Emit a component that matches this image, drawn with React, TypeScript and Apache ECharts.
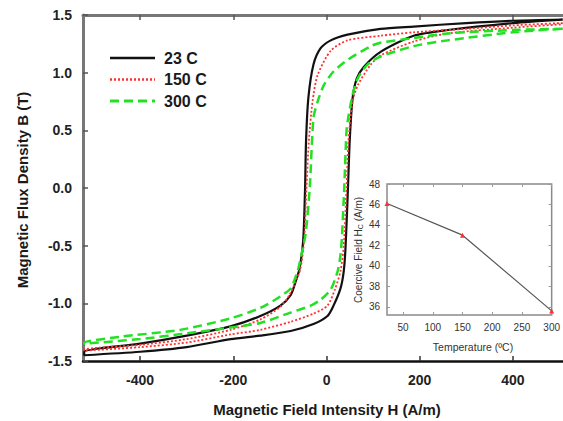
import React, { useEffect, useRef } from "react";
import * as echarts from "echarts";

// ---- Main hysteresis loops: [H (A/m), B (T)] ----
const loop23Upper: number[][] = [
  [507, 1.46], [400, 1.45], [300, 1.43], [187, 1.40], [116, 1.38], [45, 1.33], [9, 1.28],
  [-13, 1.21], [-28, 1.07], [-39, 0.78], [-44, 0.40], [-46, 0], [-50, -0.45], [-58, -0.70],
  [-67, -0.82], [-77, -0.93], [-99, -1.02], [-142, -1.11], [-206, -1.20], [-300, -1.28],
  [-400, -1.35], [-520, -1.42],
];
const loop23Lower: number[][] = [
  [-520, -1.45], [-400, -1.42], [-300, -1.38], [-206, -1.31], [-142, -1.28], [-77, -1.24],
  [-28, -1.18], [2, -1.11], [15, -1.02], [30, -0.87], [37, -0.72], [41, -0.50], [46, 0],
  [50, 0.43], [56, 0.78], [65, 0.95], [80, 1.05], [116, 1.18], [187, 1.32], [260, 1.37],
  [400, 1.43], [507, 1.46],
];
const loop150Upper: number[][] = [
  [507, 1.43], [400, 1.41], [300, 1.38], [187, 1.35], [116, 1.32], [45, 1.28], [9, 1.19],
  [-19, 0.98], [-30, 0.75], [-38, 0.40], [-43, 0], [-48, -0.45], [-56, -0.70], [-67, -0.82],
  [-80, -0.93], [-99, -1.03], [-142, -1.14], [-206, -1.23], [-300, -1.31], [-400, -1.36],
  [-520, -1.40],
];
const loop150Lower: number[][] = [
  [-520, -1.41], [-400, -1.38], [-300, -1.34], [-206, -1.27], [-142, -1.23], [-77, -1.16],
  [-28, -1.09], [2, -1.02], [18, -0.88], [30, -0.72], [37, -0.50], [43, 0], [47, 0.40],
  [56, 0.75], [67, 0.89], [95, 1.07], [116, 1.15], [187, 1.27], [260, 1.34], [400, 1.39],
  [507, 1.42],
];
const loop300Upper: number[][] = [
  [507, 1.38], [400, 1.37], [260, 1.34], [187, 1.30], [116, 1.26], [95, 1.23], [45, 1.11],
  [15, 1.01], [-6, 0.89], [-19, 0.75], [-28, 0.61], [-36, 0], [-45, -0.40], [-55, -0.60],
  [-62, -0.72], [-77, -0.87], [-99, -0.94], [-142, -1.04], [-206, -1.13], [-314, -1.23],
  [-443, -1.29], [-520, -1.34],
];
const loop300Lower: number[][] = [
  [-520, -1.35], [-400, -1.31], [-300, -1.26], [-206, -1.21], [-142, -1.17], [-77, -1.08],
  [-34, -1.02], [-13, -0.97], [9, -0.88], [24, -0.72], [30, -0.58], [33, -0.43], [38, 0],
  [43, 0.50], [47, 0.62], [56, 0.81], [67, 0.95], [88, 1.07], [116, 1.14], [187, 1.23],
  [260, 1.28], [400, 1.35], [507, 1.38],
];
const seriesNames = ["23 C", "150 C", "300 C"];
const seriesColors = ["#111111", "#ff3030", "#22e022"];
const seriesDash: any[] = ["solid", [2, 2], [9, 5]];
const seriesWidths = [2.2, 1.8, 2.5];

const hTicks = [-400, -200, 0, 200, 400];

// ---- Inset: coercive field vs temperature ----
const insetTemps = [23, 150, 300];
const insetHc = [46.1, 43.0, 35.6];
const insetXTicks = [50, 100, 150, 200, 250, 300];
const insetYTicks = [36, 38, 40, 42, 44, 46, 48];

const FONT = "'Liberation Sans', Arial, sans-serif";

export default function App() {
  const ref = useRef<HTMLDivElement>(null);
  useEffect(() => {
    if (!ref.current) return;
    const chart = echarts.init(ref.current, undefined, { renderer: "svg" });
    const mainX = { min: -522.6, max: 507.5 };
    const loops = [
      loop23Upper.concat(loop23Lower),
      loop150Upper.concat(loop150Lower),
      loop300Upper.concat(loop300Lower),
    ];
    const legendGraphics: any[] = [];
    seriesNames.forEach((name, i) => {
      const y = 58 + i * 21.5;
      legendGraphics.push({
        type: "line",
        shape: { x1: 110, y1: y, x2: 155, y2: y },
        style: { stroke: seriesColors[i], lineWidth: seriesWidths[i] + 0.5, lineDash: seriesDash[i] === "solid" ? null : seriesDash[i] },
      });
      legendGraphics.push({
        type: "text", x: 164, y,
        style: { text: name, fontFamily: FONT, fontWeight: "bold", fontSize: 16, fill: "#1a1a1a", align: "left", verticalAlign: "middle" },
      });
    });
    const option: any = {
      animation: false,
      backgroundColor: "#ffffff",
      textStyle: { fontFamily: FONT },
      grid: [
        { left: 83, top: 15, width: 480, height: 346 },
        {
          left: 387, top: 184, width: 170, height: 131, show: true,
          backgroundColor: "#ffffff", borderColor: "#8a8a8a", borderWidth: 1.5, z: 5,
        },
      ],
      xAxis: [
        {
          type: "value", gridIndex: 0, position: "bottom", ...mainX,
          axisLine: { show: true, onZero: false, lineStyle: { color: "#111", width: 2.5 } },
          axisTick: { show: true, inside: true, length: 5, customValues: hTicks, lineStyle: { color: "#333", width: 1.5 } },
          axisLabel: {
            customValues: hTicks, margin: 12, fontFamily: FONT, fontWeight: "bold", fontSize: 14, color: "#222",
            formatter: (v: number) => String(v),
          },
          splitLine: { show: false },
        },
        {
          type: "value", gridIndex: 0, position: "top", ...mainX,
          axisLine: { show: true, onZero: false, lineStyle: { color: "#777", width: 3 } },
          axisTick: { show: true, inside: true, length: 5, customValues: hTicks, lineStyle: { color: "#555", width: 1.5 } },
          axisLabel: { show: false },
          splitLine: { show: false },
        },
        {
          type: "value", gridIndex: 1, position: "bottom", min: 23, max: 300,
          axisLine: { show: false },
          axisTick: { show: true, inside: true, length: 3, customValues: insetXTicks, lineStyle: { color: "#999" } },
          axisLabel: { customValues: insetXTicks, margin: 7, fontFamily: FONT, fontSize: 10, color: "#333" },
          splitLine: { show: false }, z: 6,
        },
        {
          type: "value", gridIndex: 1, position: "top", min: 23, max: 300,
          axisLine: { show: false },
          axisTick: { show: true, inside: true, length: 3, customValues: insetXTicks, lineStyle: { color: "#999" } },
          axisLabel: { show: false },
          splitLine: { show: false }, z: 6,
        },
      ],
      yAxis: [
        {
          type: "value", gridIndex: 0, min: -1.5, max: 1.5, interval: 0.5,
          axisLine: { show: true, onZero: false, lineStyle: { color: "#777", width: 3 } },
          axisTick: { show: true, inside: true, length: 5, lineStyle: { color: "#555", width: 1.5 } },
          axisLabel: {
            margin: 11, fontFamily: FONT, fontWeight: "bold", fontSize: 14, color: "#222",
            formatter: (v: number) => v.toFixed(1),
          },
          splitLine: { show: false },
        },
        {
          type: "value", gridIndex: 1, position: "left", min: 35.2, max: 48,
          axisLine: { show: false },
          axisTick: { show: true, inside: true, length: 3, customValues: insetYTicks, lineStyle: { color: "#999" } },
          axisLabel: { customValues: insetYTicks, margin: 7, fontFamily: FONT, fontSize: 10, color: "#333" },
          splitLine: { show: false }, z: 6,
        },
        {
          type: "value", gridIndex: 1, position: "right", min: 35.2, max: 48,
          axisLine: { show: false },
          axisTick: { show: true, inside: true, length: 3, customValues: insetYTicks, lineStyle: { color: "#999" } },
          axisLabel: { show: false },
          splitLine: { show: false }, z: 6,
        },
      ],
      series: [
        ...seriesNames.map((name, i) => ({
          name, type: "line", xAxisIndex: 0, yAxisIndex: 0, symbol: "none", smooth: 0.25,
          data: loops[i],
          lineStyle: { color: seriesColors[i], width: seriesWidths[i], type: seriesDash[i] },
          itemStyle: { color: seriesColors[i] },
        })),
        {
          name: "Hc", type: "line", xAxisIndex: 2, yAxisIndex: 1, z: 7,
          data: insetTemps.map((t, i) => [t, insetHc[i]]),
          symbol: "triangle", symbolSize: 5,
          lineStyle: { color: "#555", width: 1.2 }, itemStyle: { color: "#ff3030" },
        },
      ],
      graphic: [
        ...legendGraphics,
        {
          type: "text", x: 22, y: 190, rotation: Math.PI / 2,
          style: {
            text: "Magnetic Flux Density B (T)", fontFamily: FONT, fontWeight: "bold", fontSize: 15,
            fill: "#1a1a1a", align: "center", verticalAlign: "middle",
          },
        },
        {
          type: "text", x: 327, y: 409,
          style: {
            text: "Magnetic Field Intensity H (A/m)", fontFamily: FONT, fontWeight: "bold", fontSize: 15,
            fill: "#1a1a1a", align: "center", verticalAlign: "middle",
          },
        },
        {
          type: "text", x: 358, y: 250, rotation: Math.PI / 2, z: 10,
          style: {
            text: "Coercive Field H{s|C} (A/m)", fontFamily: FONT, fontSize: 10, fill: "#333",
            align: "center", verticalAlign: "middle",
            rich: { s: { fontSize: 7, fontFamily: FONT, fill: "#333", padding: [4, 0, 0, 0] } },
          },
        },
        {
          type: "text", x: 473, y: 347, z: 10,
          style: {
            text: "Temperature (ºC)", fontFamily: FONT, fontSize: 10.5, fill: "#333",
            align: "center", verticalAlign: "middle",
          },
        },
      ],
    };
    chart.setOption(option);
    return () => chart.dispose();
  }, []);
  return <div ref={ref} style={{ position: "fixed", left: 0, top: 0, width: 563, height: 421 }} />;
}
